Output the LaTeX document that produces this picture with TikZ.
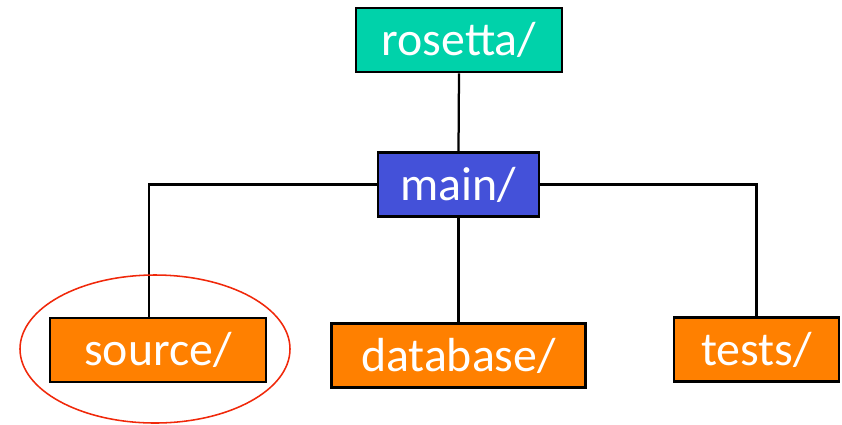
\documentclass[tikz,border=0pt]{standalone}
\usepackage{fontspec}
\setmainfont{Carlito}
\definecolor{rosettagreen}{RGB}{0,210,170}
\definecolor{mainblue}{RGB}{68,81,217}
\definecolor{dirorange}{RGB}{255,128,0}
\definecolor{circred}{RGB}{240,40,10}
\begin{document}
\begin{tikzpicture}[x=0.025cm,y=-0.025cm,
    dirbox/.style={draw=black,line width=1.8pt,text=white,inner sep=0pt,
        minimum height=64*0.025cm,font=\fontsize{34}{38}\selectfont},
    link/.style={line width=1.6pt}]
    \useasboundingbox (0,0) rectangle (842,424);
    \node[dirbox,fill=rosettagreen,minimum width=206*0.025cm](rosetta) at (459,40){rosetta/};
    \node[dirbox,fill=mainblue,minimum width=161*0.025cm](main) at (458.5,184.5){main/};
    \node[dirbox,fill=dirorange,minimum width=216*0.025cm](source) at (158,350){source/};
    \node[dirbox,fill=dirorange,minimum width=254*0.025cm](database) at (458.5,355.5){database/};
    \node[dirbox,fill=dirorange,minimum width=165*0.025cm](tests) at (756.5,349.5){tests/};
    \coordinate (sourcetop) at (149,318);
    \draw[link](rosetta.south)--(main.north);
    \draw[link](main.west)-|(sourcetop);
    \draw[link](main.east)-|(tests.north);
    \draw[link](main.south)--(database.north);
    \draw[circred,line width=1.1pt](155,349) ellipse (135 and 74);
\end{tikzpicture}
\end{document}
